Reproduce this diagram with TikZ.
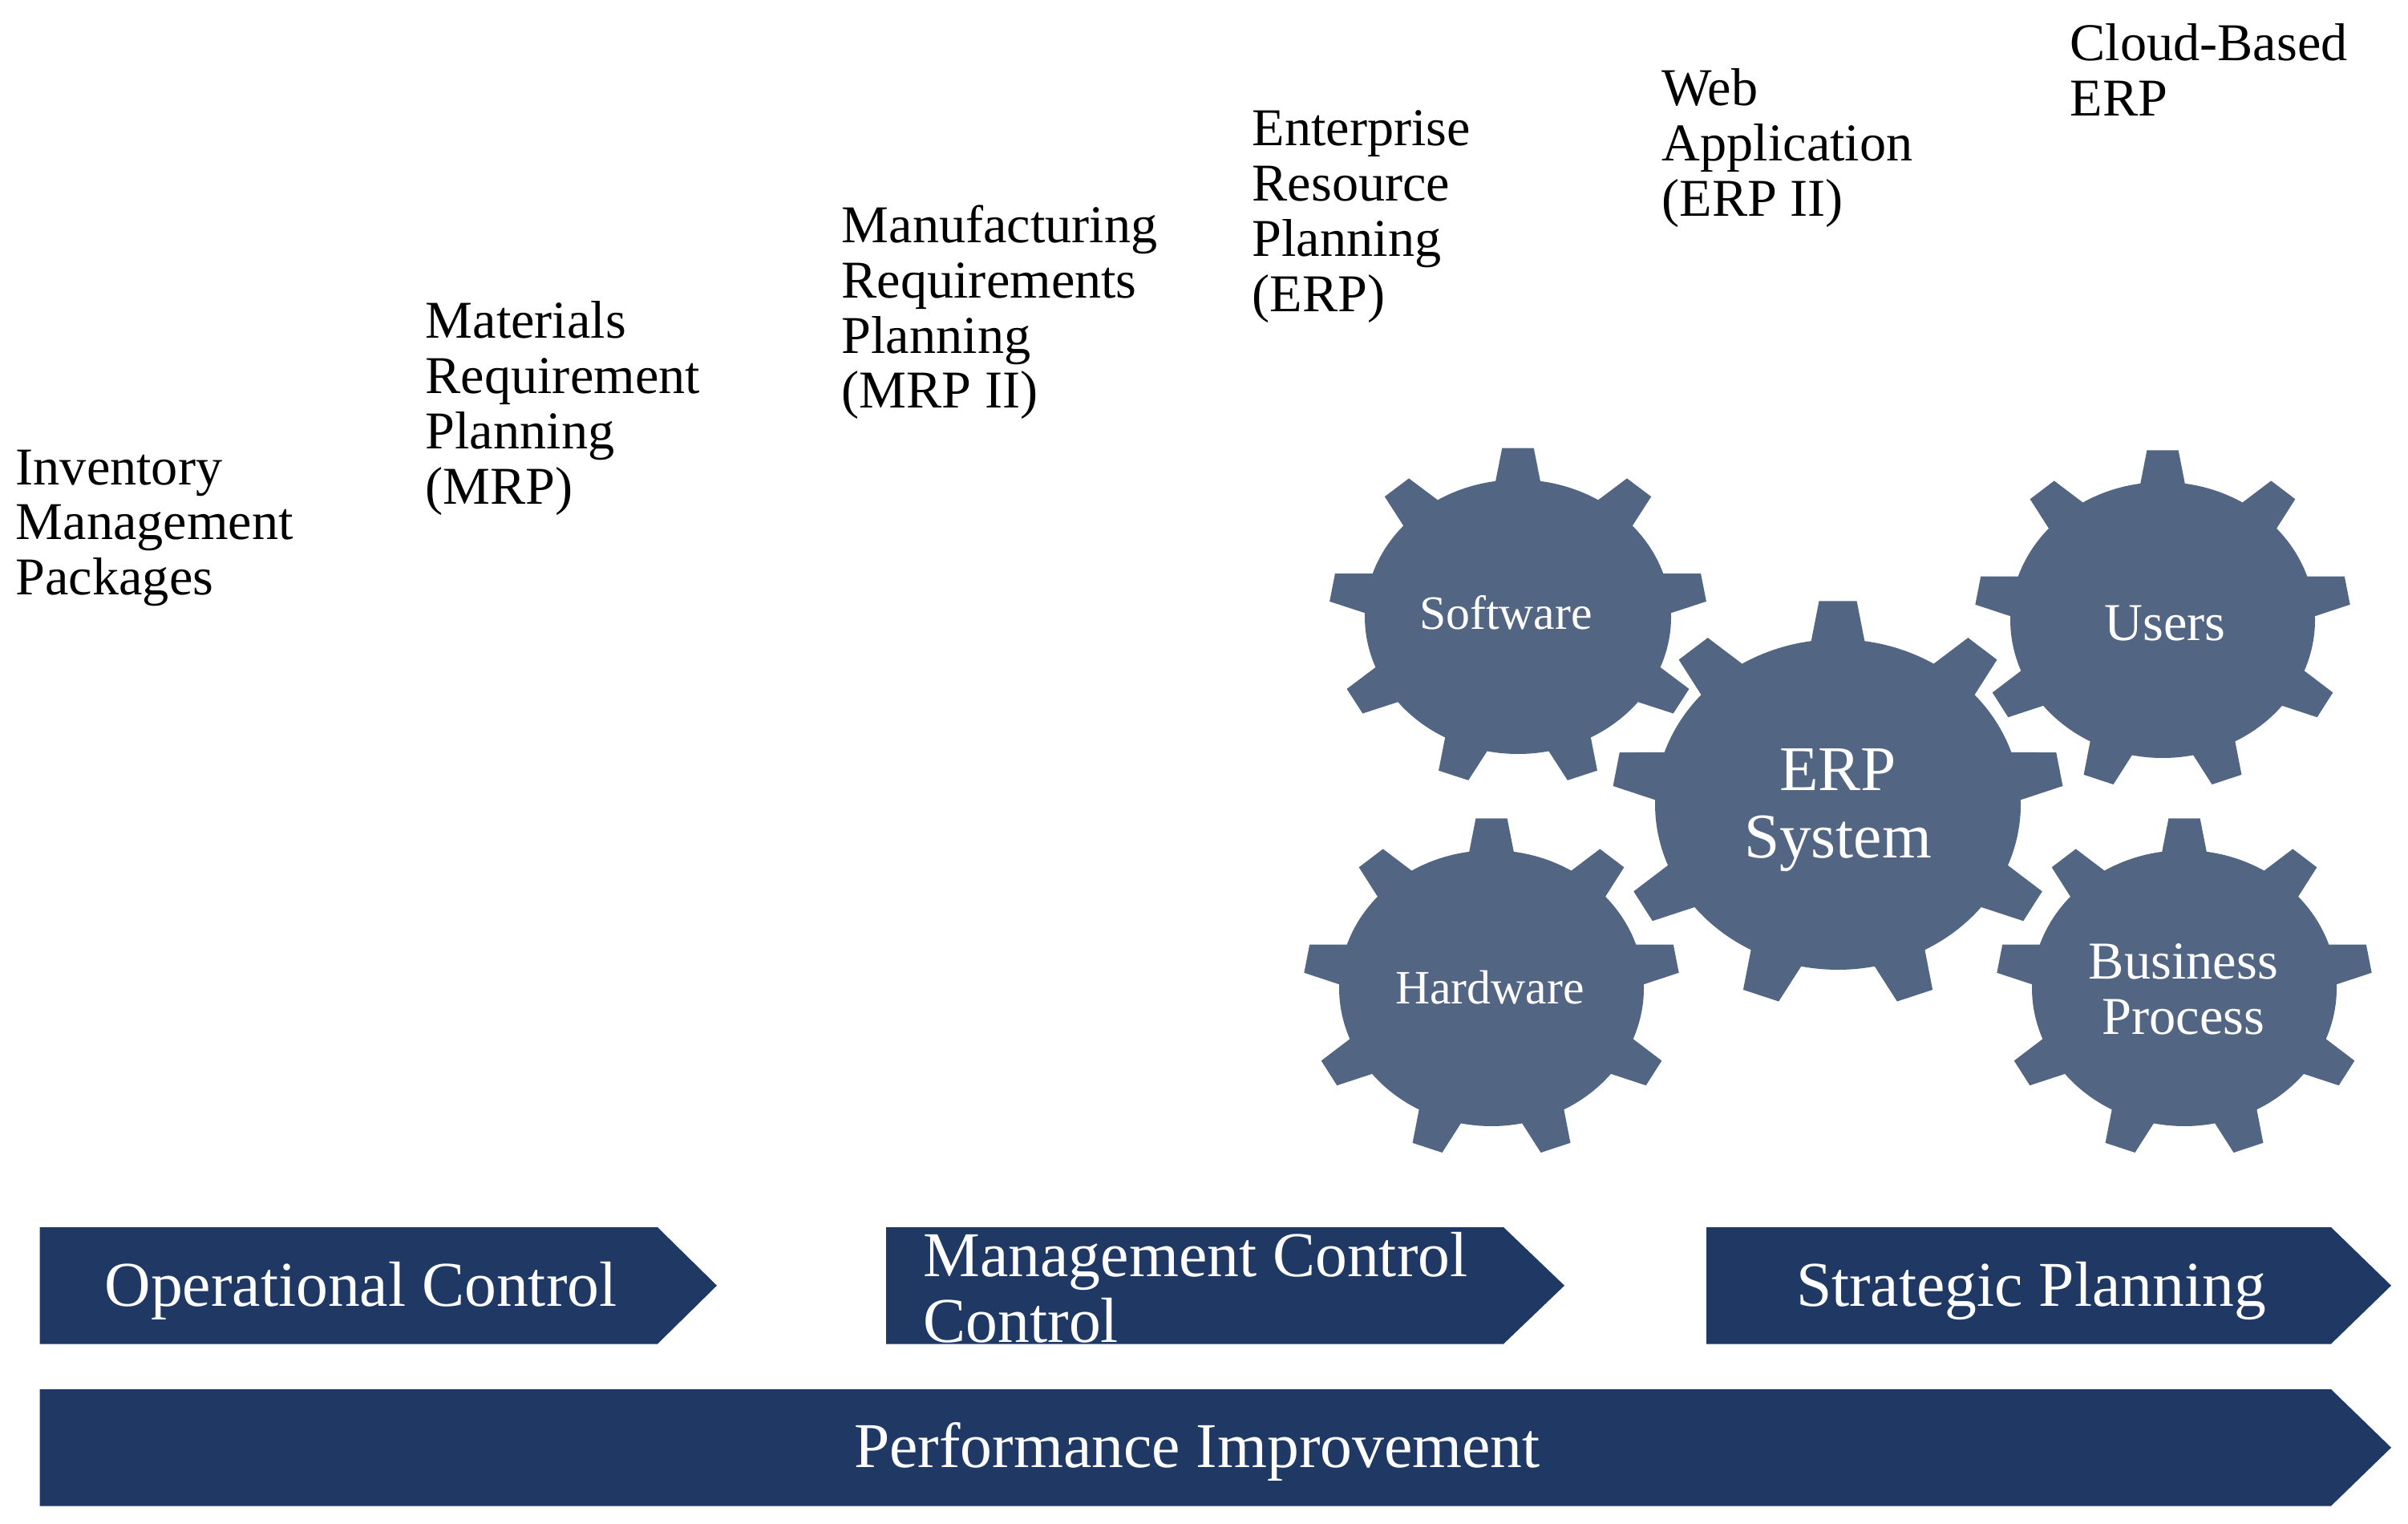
\documentclass[tikz,border=0pt]{standalone}
\usepackage{fontspec}
\setmainfont{Liberation Serif}
\usepackage{tikz}
\definecolor{gearblue}{HTML}{526582}
\definecolor{bannerblue}{HTML}{1F3864}
\tikzset{
	stagelabel/.style={anchor=north west, inner sep=0pt, align=left, font=\fontsize{18.85}{19.6}\selectfont},
	gearlabel/.style={inner sep=0pt, align=center, text=white, font=\fontsize{17}{19.4}\selectfont},
	widelabel/.style={inner sep=0pt, align=center, text=white, font=\fontsize{18.9}{19.6}\selectfont},
	biglabel/.style={inner sep=0pt, align=center, text=white, font=\fontsize{22.6}{24}\selectfont},
	bannerlabel/.style={inner sep=0pt, align=left, text=white, font=\fontsize{22.65}{23.2}\selectfont}
}
\def\gearwheel(#1,#2)(#3,#4){\fill[gearblue, shift={(#1,#2)}, xscale=#3, yscale=#4] (98.4:1) \foreach \a in {90,50,...,-230} {-- (\a+4.8:1.235) -- (\a-4.8:1.235) -- (\a-8.4:1) arc (\a-8.4:\a-31.6:1)} -- cycle;}
\def\banner(#1,#2)(#3,#4){\fill[bannerblue] (#1,#2) -- (#3,#2) -- (#4,{#2-0.7275}) -- (#3,{#2-1.455}) -- (#1,{#2-1.455}) -- cycle;}

\begin{document}
\begin{tikzpicture}
		%%%%% START %%%%%
		\useasboundingbox (0, 0) rectangle (30.03, 18.99);
		
		\node[stagelabel] (inventory) at (0.19, 13.39) {Inventory\\Management\\Packages};
		\node[stagelabel] (materials) at (5.30, 15.24) {Materials\\Requirement\\Planning\\(MRP)};
		\node[stagelabel] (manufacturing) at (10.49, 16.44) {Manufacturing\\Requirements\\Planning\\(MRP II)};
		\node[stagelabel] (enterprise) at (15.61, 17.62) {Enterprise\\Resource\\Planning\\(ERP)};
		\node[stagelabel] (webapp) at (20.72, 18.14) {Web\\Application\\(ERP II)};
		\node[stagelabel] (cloud) at (25.81, 18.70) {Cloud-Based\\ERP};
		
		\gearwheel(18.93, 11.30)(1.91, 1.71);
		\gearwheel(26.97, 11.26)(1.90, 1.72);
		\gearwheel(22.92, 8.96)(2.28, 2.06);
		\gearwheel(18.60, 6.67)(1.90, 1.72);
		\gearwheel(27.24, 6.67)(1.90, 1.72);
		
		\node[gearlabel] (software) at (18.78, 11.35) {Software};
		\node[widelabel] (users) at (27.00, 11.22) {Users};
		\node[biglabel] (erpsystem) at (22.92, 8.89) {ERP\\System};
		\node[gearlabel] (hardware) at (18.58, 6.68) {Hardware};
		\node[widelabel] (process) at (27.23, 6.66) {Business\\Process};
		
		\banner(0.495, 3.69)(8.20, 8.94);
		\banner(11.05, 3.69)(18.75, 19.51);
		\banner(21.28, 3.69)(29.07, 29.82);
		\banner(0.495, 1.67)(29.07, 29.82);
		
		\node[bannerlabel] (operational) at (4.50, 2.90) {Operational Control};
		\node[bannerlabel, anchor=west] (management) at (11.51, 2.94) {Management Control\\Control};
		\node[bannerlabel] (strategic) at (25.33, 2.90) {Strategic Planning};
		\node[bannerlabel] (performance) at (14.93, 0.89) {Performance Improvement};
		
		%%%%% END %%%%%
	\end{tikzpicture}
\end{document}
